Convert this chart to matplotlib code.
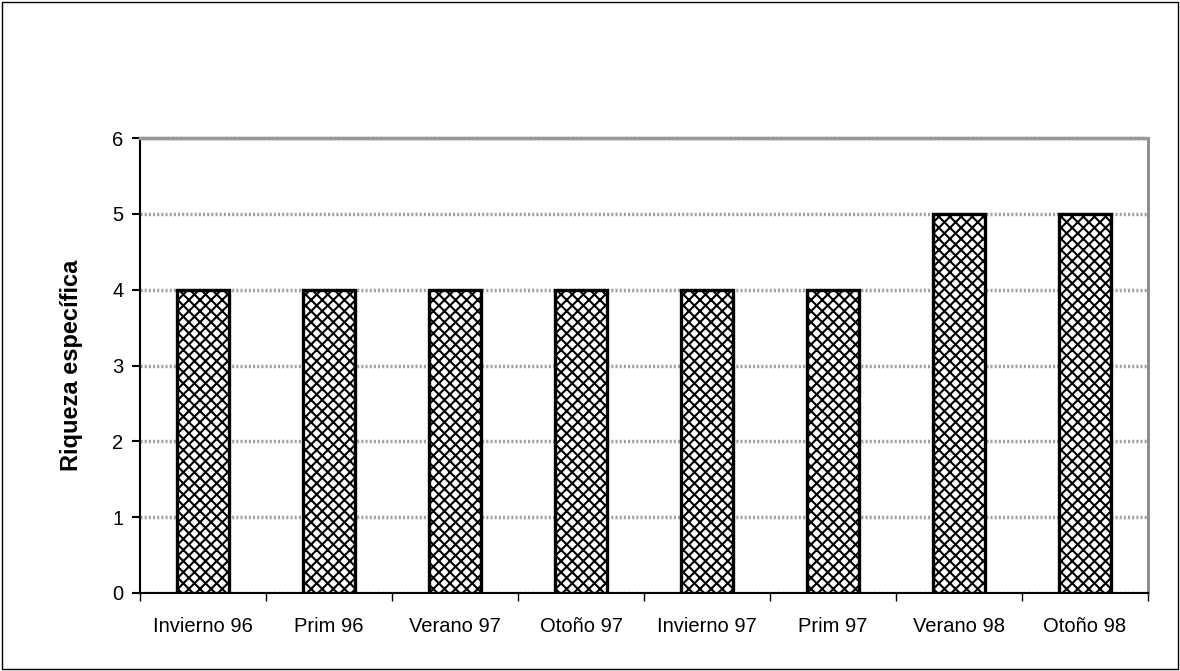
import matplotlib
matplotlib.use('Agg')
import matplotlib.pyplot as plt
from matplotlib.patches import Rectangle
import numpy as np

plt.rcParams['font.family'] = ['Liberation Sans', 'DejaVu Sans']
plt.rcParams['hatch.linewidth'] = 1.5
plt.rcParams['hatch.color'] = '#555555'

categories = ['Invierno 96', 'Prim 96', 'Verano 97', 'Otoño 97',
              'Invierno 97', 'Prim 97', 'Verano 98', 'Otoño 98']
riqueza = [4, 4, 4, 4, 4, 4, 5, 5]

fig = plt.figure(figsize=(11.8, 6.71), dpi=100)
ax = fig.add_axes([140 / 1180, 1 - 593 / 671, 1008 / 1180, 455 / 671])

# marco exterior
fig.patches.append(Rectangle((0.002, 0.003), 0.996, 0.994, transform=fig.transFigure,
                             fill=False, edgecolor='black', linewidth=1))

x = np.arange(len(categories))
ax.bar(x, riqueza, width=0.41, color='white', edgecolor='black',
       linewidth=2.4, hatch='xxx', zorder=3)

ax.set_xlim(-0.5, len(categories) - 0.5)
ax.set_ylim(0, 6)
ax.set_yticks(range(0, 7))
ax.yaxis.grid(True, color='#a0a0a0', linestyle=(0, (0.6, 0.6)), linewidth=2.5, zorder=0)
ax.set_axisbelow(True)

ax.set_xticks(x)
ax.set_xticklabels(categories, fontsize=14.5)
ax.set_xticks(np.arange(-0.5, len(categories)), minor=True)
ax.tick_params(axis='x', which='major', length=0, pad=17)
ax.tick_params(axis='x', which='minor', length=6, width=1, direction='out')
ax.tick_params(axis='y', length=6, width=1.5, direction='out', labelsize=14.5, pad=6)

ax.spines['left'].set_linewidth(1.5)
ax.spines['bottom'].set_linewidth(1.5)
ax.spines['right'].set_color('#888888')
ax.spines['right'].set_linewidth(2)
ax.spines['top'].set_color('#999999')
ax.spines['top'].set_linewidth(2.5)
ax.spines['top'].set_linestyle((0, (0.6, 0.6)))

ax.set_ylabel('Riqueza específica', fontsize=17, fontweight='bold', labelpad=21)

fig.savefig('out.png', dpi=100, facecolor='white')
